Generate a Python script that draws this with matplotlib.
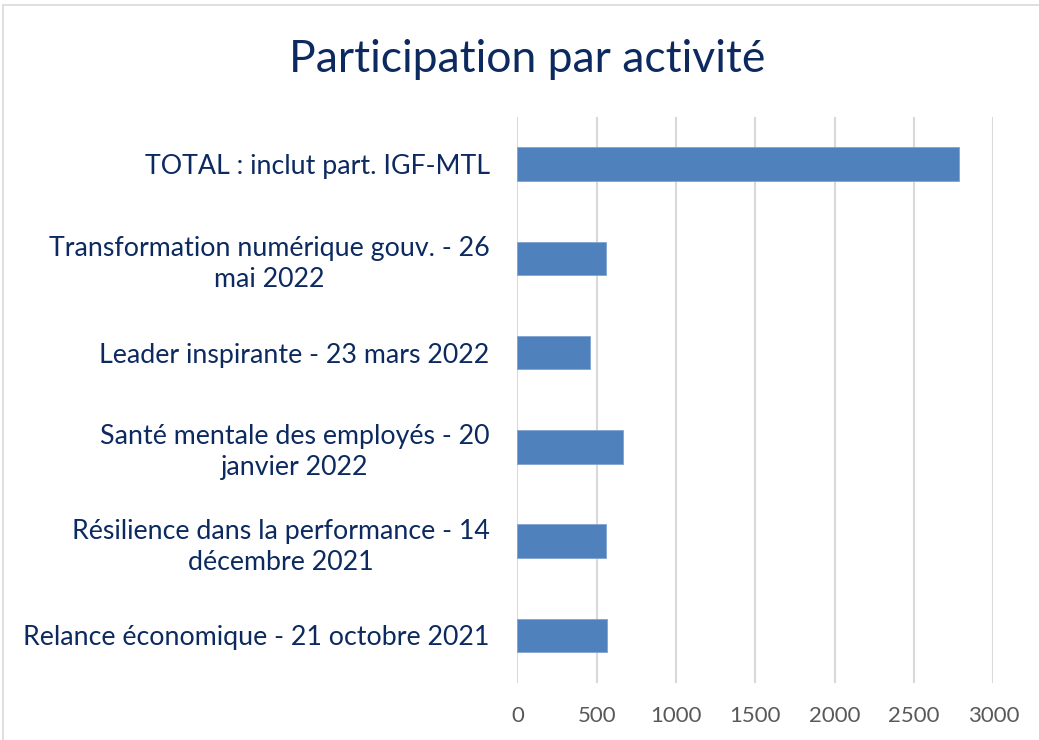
import matplotlib
matplotlib.use("Agg")
import matplotlib.pyplot as plt
from matplotlib.patches import Rectangle

# activities, bottom to top as drawn
activites = [
    "Relance économique - 21 octobre 2021",
    "Résilience dans la performance - 14\ndécembre 2021",
    "Santé mentale des employés - 20\njanvier 2022",
    "Leader inspirante - 23 mars 2022",
    "Transformation numérique gouv. - 26\nmai 2022",
    "TOTAL : inclut part. IGF-MTL",
]
participants = [564, 558, 663, 457, 558, 2785]
xticks = [0, 500, 1000, 1500, 2000, 2500, 3000]

navy = "#0c2a60"
plt.rcParams['font.family'] = ['Lato', 'DejaVu Sans']

fig = plt.figure(figsize=(10.39, 7.4), dpi=100)
ax = fig.add_axes([0.498, 0.0776, 0.458, 0.7644])

ax.barh(range(len(activites)), participants, height=0.355, color="#4f81bd",
        edgecolor="#7fa3d0", linewidth=0.6, zorder=3)

ax.set_xlim(0, 3000)
ax.set_ylim(-0.5, len(activites) - 0.5)
ax.set_xticks(xticks)
ax.set_xticklabels([str(t) for t in xticks], color="#595959", fontsize=16)
ax.set_yticks(range(len(activites)))
ax.set_yticklabels(activites, color=navy, fontsize=19.3, multialignment="center",
                   linespacing=1.3)
ax.tick_params(axis="both", length=0)
ax.tick_params(axis="y", pad=20)
ax.tick_params(axis="x", pad=17)
ax.grid(axis="x", color="#d9d9d9", linewidth=1.5, zorder=0)
for s in ax.spines.values():
    s.set_visible(False)

fig.text(0.507, 0.919, "Participation par activité", ha="center", va="center",
         fontsize=32, color=navy)

# outer chart border (right / bottom edges fall outside the picture)
fig.patches.append(Rectangle((3 / 1039, -0.05), 1.1, 1 - 5 / 740 + 0.05,
                             transform=fig.transFigure, fill=False,
                             edgecolor="#d9d9d9", linewidth=1.2))

fig.savefig("out.png", dpi=100, facecolor="white")
